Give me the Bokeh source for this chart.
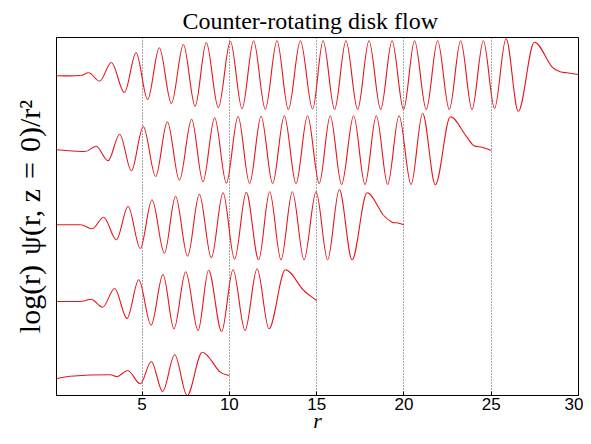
from bokeh.plotting import figure
from bokeh.models import FixedTicker, Range1d
from bokeh.embed import file_html
from bokeh.resources import INLINE

# ---- data (r, offset signal in plot units) ----
r_top = [0.09, 1.47, 1.94, 2.57, 3.24, 3.99, 4.66, 5.32, 5.99, 6.68, 7.37, 8.04, 8.68, 9.37,
         10.06, 10.73, 11.39, 12.06, 12.73, 13.38, 14.07, 14.77, 15.37, 16.03, 16.68, 17.35,
         18.00, 18.67, 19.32, 19.98, 20.61, 21.28, 21.93, 22.60, 23.25, 23.90, 24.55, 25.19,
         25.85, 26.55, 27.47, 28.48, 28.96, 29.34, 30.0]
y_top = [319.7, 320.0, 322.7, 314.3, 333.0, 303.0, 342.7, 296.0, 347.7, 292.0, 351.0, 289.3,
         353.0, 287.7, 354.3, 286.7, 354.7, 286.3, 354.7, 286.0, 354.7, 286.4, 354.7, 286.0,
         354.7, 286.0, 354.7, 286.0, 354.7, 286.0, 354.7, 286.0, 354.7, 286.0, 354.7, 286.0,
         354.7, 287.0, 357.0, 284.0, 353.3, 328.7, 323.7, 322.7, 321.0]

r_2 = [0.09, 1.75, 2.37, 3.05, 3.72, 4.39, 5.07, 5.78, 6.45, 7.14, 7.84, 8.49, 9.16, 9.83,
       10.50, 11.16, 11.82, 12.48, 13.15, 13.82, 14.48, 15.15, 15.78, 16.43, 17.12, 17.77,
       18.42, 19.07, 19.72, 20.41, 21.07, 21.80, 22.66, 23.61, 23.99, 24.47, 25.0]
y_2 = [245.7, 244.0, 249.3, 234.7, 261.3, 224.7, 269.0, 219.0, 273.7, 215.3, 276.3, 213.7,
       277.7, 212.3, 279.0, 212.0, 279.3, 212.0, 279.7, 212.0, 279.7, 212.0, 279.7, 211.0,
       279.7, 211.0, 279.7, 211.0, 279.7, 211.0, 282.3, 210.7, 278.7, 258.3, 250.0, 248.3, 245.0]

r_3 = [0.09, 1.47, 2.14, 2.80, 3.53, 4.20, 4.90, 5.57, 6.28, 6.92, 7.61, 8.28, 8.97, 9.64,
       10.30, 10.97, 11.68, 12.31, 12.96, 13.61, 14.28, 14.97, 15.63, 16.30, 17.03, 17.89,
       18.84, 19.32, 19.60, 20.0]
y_3 = [170.7, 170.7, 166.7, 178.3, 155.7, 189.0, 147.0, 195.7, 142.3, 199.3, 139.3, 201.3,
       137.7, 202.7, 136.3, 203.3, 135.7, 203.7, 135.7, 203.7, 135.7, 203.7, 135.7, 206.0,
       135.7, 202.7, 180.0, 173.3, 172.7, 170.7]

r_4 = [0.09, 1.56, 2.08, 2.74, 3.43, 4.14, 4.81, 5.52, 6.20, 6.83, 7.50, 8.21, 8.81, 9.56,
       10.21, 10.90, 11.59, 12.27, 13.21, 14.26, 15.0]
y_4 = [94.0, 94.3, 96.3, 88.3, 107.0, 77.0, 115.7, 70.3, 121.0, 66.7, 123.7, 65.0, 125.3,
       64.0, 125.7, 65.0, 126.7, 66.7, 125.7, 105.0, 95.0]

r_5 = [0.09, 0.89, 3.18, 3.57, 4.18, 4.90, 5.53, 6.18, 6.87, 7.58, 8.45, 9.48, 10.0]
y_5 = [16.7, 19.3, 20.7, 19.0, 25.0, 11.7, 34.0, 4.0, 40.7, 0.0, 43.3, 23.3, 20.0]

x_ticks = [5, 10, 15, 20, 25, 30]
grid_ticks = [5, 10, 15, 20, 25]

curves = [(r_top, y_top), (r_2, y_2), (r_3, y_3), (r_4, y_4), (r_5, y_5)]


def smooth_segments(xs, ys):
    """Cubic Bezier pieces through the read points (flat tangents at extrema)."""
    n = len(xs)
    slopes = []
    for i in range(n):
        if i == 0:
            s = (ys[1] - ys[0]) / (xs[1] - xs[0])
        elif i == n - 1:
            s = (ys[-1] - ys[-2]) / (xs[-1] - xs[-2])
        elif (ys[i] - ys[i - 1]) * (ys[i + 1] - ys[i]) <= 0:
            s = 0.0
        else:
            s = (ys[i + 1] - ys[i - 1]) / (xs[i + 1] - xs[i - 1])
        slopes.append(s)
    seg = dict(x0=[], y0=[], x1=[], y1=[], cx0=[], cy0=[], cx1=[], cy1=[])
    for i in range(n - 1):
        h = xs[i + 1] - xs[i]
        seg["x0"].append(xs[i]); seg["y0"].append(ys[i])
        seg["x1"].append(xs[i + 1]); seg["y1"].append(ys[i + 1])
        seg["cx0"].append(xs[i] + h / 3); seg["cy0"].append(ys[i] + slopes[i] * h / 3)
        seg["cx1"].append(xs[i + 1] - h / 3); seg["cy1"].append(ys[i + 1] - slopes[i + 1] * h / 3)
    return seg


p = figure(width=583, height=436, x_range=Range1d(0.1, 30), y_range=Range1d(0, 358),
           output_backend="svg", toolbar_location=None,
           title="Counter-rotating disk flow",
           min_border_left=56, min_border_right=5, min_border_top=37, min_border_bottom=41)

p.title.text_font = "Liberation Serif"
p.title.text_font_size = "24px"
p.title.text_font_style = "normal"
p.title.align = "left"
p.title.offset = 126
p.title.vertical_align = "bottom"
p.title.text_color = "black"
p.title.standoff = 8

p.outline_line_color = "black"
p.outline_line_width = 1
p.background_fill_color = "white"
p.border_fill_color = "white"

for xs, ys in curves:
    seg = smooth_segments(xs, ys)
    p.bezier(x0=seg["x0"], y0=seg["y0"], x1=seg["x1"], y1=seg["y1"],
             cx0=seg["cx0"], cy0=seg["cy0"], cx1=seg["cx1"], cy1=seg["cy1"],
             line_color="#e8141c", line_width=1.1)

# x axis
xa = p.xaxis[0]
xa.ticker = FixedTicker(ticks=x_ticks)
xa.major_tick_in = 4
xa.major_tick_out = 0
xa.minor_tick_in = 0
xa.minor_tick_out = 0
xa.axis_line_color = "black"
xa.major_tick_line_color = "black"
xa.major_label_text_font = "Liberation Sans"
xa.major_label_text_font_size = "17px"
xa.major_label_text_color = "black"
xa.major_label_standoff = 2
xa.axis_label = "r"
xa.axis_label_text_font = "Liberation Serif"
xa.axis_label_text_font_style = "italic"
xa.axis_label_text_font_size = "22px"
xa.axis_label_text_color = "black"
xa.axis_label_standoff = -5

# y axis (no ticks)
ya = p.yaxis[0]
ya.ticker = FixedTicker(ticks=[])
ya.major_tick_in = 0
ya.major_tick_out = 0
ya.minor_tick_in = 0
ya.minor_tick_out = 0
ya.axis_line_color = "black"
ya.axis_label = "log(r)\u2004ψ(r, z\u2004=\u20040)/r²"
ya.axis_label_text_font = "Liberation Serif"
ya.axis_label_text_font_style = "normal"
ya.axis_label_text_font_size = "30px"
ya.axis_label_text_color = "black"
ya.axis_label_standoff = 11

# dotted vertical grid
p.xgrid.ticker = FixedTicker(ticks=grid_ticks)
p.xgrid.grid_line_color = "#222222"
p.xgrid.grid_line_dash = "1 2"
p.xgrid.grid_line_width = 0.8
p.ygrid.visible = False

open("out.html", "w").write(file_html(p, INLINE))
